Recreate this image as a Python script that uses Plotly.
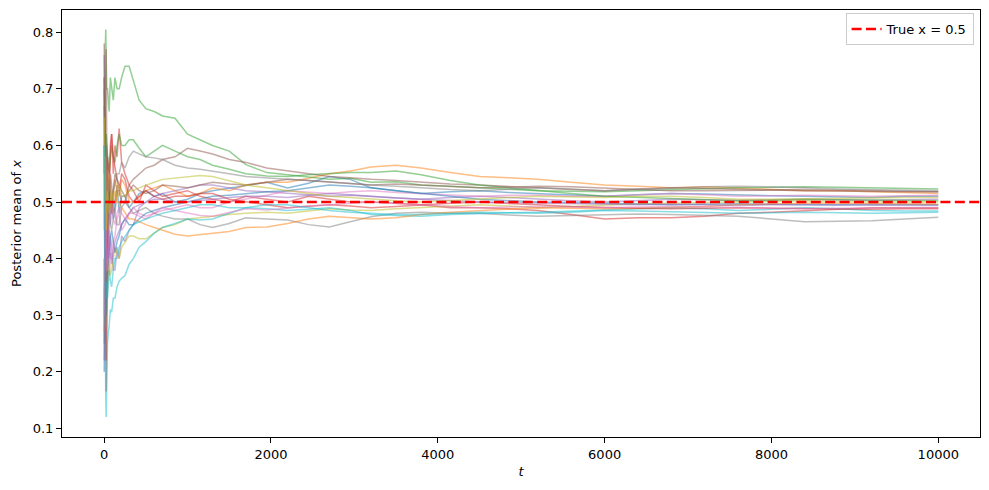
import plotly.graph_objects as go

t_steps = [1, 5, 10, 15, 20, 25, 30, 40, 50, 60,
           75, 90, 110, 130, 155, 180, 210, 250, 300, 350,
           420, 500, 600, 700, 850, 1000, 1150, 1300, 1500, 1700,
           1950, 2200, 2450, 2700, 2950, 3200, 3500, 3800, 4150,
           4500, 4850, 5200, 5600, 6000, 6400, 6800, 7200, 7600, 8000, 8400, 8800, 9200, 9600, 10000]

run_00 = [0.67, 0.55, 0.45, 0.58, 0.52, 0.40, 0.48, 0.47, 0.55, 0.52,
          0.46, 0.50, 0.47, 0.50, 0.53, 0.48, 0.51, 0.51, 0.49, 0.50,
          0.515, 0.52, 0.51, 0.515, 0.50, 0.505, 0.515, 0.52, 0.525, 0.53,
          0.535, 0.525, 0.533, 0.545, 0.54, 0.525, 0.52, 0.515, 0.518,
          0.52, 0.517, 0.515, 0.512, 0.51, 0.513, 0.515, 0.514, 0.512, 0.511, 0.51, 0.509, 0.508, 0.51, 0.51]
run_01 = [0.50, 0.58, 0.62, 0.50, 0.55, 0.58, 0.60, 0.52, 0.50, 0.55,
          0.53, 0.50, 0.52, 0.54, 0.52, 0.51, 0.54, 0.53, 0.50, 0.50,
          0.51, 0.52, 0.525, 0.53, 0.52, 0.51, 0.515, 0.525, 0.52, 0.53,
          0.535, 0.535, 0.542, 0.55, 0.555, 0.562, 0.565, 0.56, 0.552,
          0.545, 0.543, 0.54, 0.535, 0.53, 0.528, 0.525, 0.527, 0.525, 0.522, 0.52, 0.52, 0.518, 0.516, 0.515]
run_02 = [0.55, 0.66, 0.72, 0.78, 0.805, 0.74, 0.70, 0.70, 0.68, 0.66,
          0.72, 0.70, 0.68, 0.72, 0.70, 0.70, 0.72, 0.74, 0.74, 0.715,
          0.68, 0.665, 0.66, 0.652, 0.648, 0.62, 0.61, 0.60, 0.59, 0.566,
          0.552, 0.548, 0.545, 0.54, 0.542, 0.535, 0.536, 0.53, 0.528,
          0.525, 0.523, 0.52, 0.519, 0.518, 0.52, 0.522, 0.524, 0.525, 0.526, 0.527, 0.526, 0.525, 0.524, 0.523]
run_03 = [0.40, 0.30, 0.25, 0.45, 0.30, 0.165, 0.25, 0.35, 0.45, 0.50,
          0.58, 0.62, 0.55, 0.60, 0.58, 0.63, 0.57, 0.55, 0.53, 0.52,
          0.50, 0.53, 0.52, 0.51, 0.515, 0.52, 0.51, 0.505, 0.50, 0.51,
          0.505, 0.50, 0.51, 0.505, 0.50, 0.50, 0.497, 0.495, 0.49,
          0.49, 0.488, 0.485, 0.478, 0.47, 0.472, 0.472, 0.475, 0.48, 0.482, 0.485, 0.488, 0.49, 0.49, 0.49]
run_04 = [0.76, 0.65, 0.55, 0.40, 0.48, 0.60, 0.52, 0.45, 0.42, 0.40,
          0.44, 0.42, 0.38, 0.38, 0.42, 0.40, 0.44, 0.43, 0.45, 0.46,
          0.49, 0.50, 0.51, 0.515, 0.52, 0.525, 0.53, 0.53, 0.525, 0.52,
          0.518, 0.515, 0.513, 0.51, 0.512, 0.51, 0.507, 0.505, 0.508,
          0.51, 0.508, 0.505, 0.502, 0.50, 0.503, 0.505, 0.504, 0.503, 0.504, 0.505, 0.504, 0.503, 0.504, 0.505]
run_05 = [0.60, 0.52, 0.45, 0.68, 0.75, 0.77, 0.62, 0.55, 0.52, 0.50,
          0.55, 0.53, 0.49, 0.48, 0.52, 0.52, 0.50, 0.50, 0.53, 0.54,
          0.55, 0.56, 0.565, 0.575, 0.58, 0.595, 0.59, 0.585, 0.575, 0.57,
          0.56, 0.555, 0.55, 0.545, 0.543, 0.54, 0.538, 0.535, 0.532,
          0.53, 0.528, 0.525, 0.522, 0.52, 0.523, 0.525, 0.524, 0.522, 0.521, 0.52, 0.519, 0.518, 0.518, 0.518]
run_06 = [0.45, 0.55, 0.60, 0.35, 0.42, 0.50, 0.45, 0.42, 0.38, 0.37,
          0.41, 0.40, 0.43, 0.44, 0.47, 0.48, 0.45, 0.46, 0.48, 0.49,
          0.48, 0.475, 0.48, 0.485, 0.49, 0.495, 0.49, 0.49, 0.50, 0.505,
          0.512, 0.52, 0.518, 0.515, 0.518, 0.52, 0.517, 0.515, 0.512,
          0.51, 0.512, 0.512, 0.51, 0.51, 0.513, 0.515, 0.513, 0.51, 0.511, 0.512, 0.511, 0.51, 0.511, 0.512]
run_07 = [0.25, 0.35, 0.42, 0.55, 0.48, 0.38, 0.40, 0.42, 0.47, 0.50,
          0.46, 0.45, 0.47, 0.48, 0.46, 0.46, 0.49, 0.50, 0.49, 0.48,
          0.485, 0.49, 0.48, 0.475, 0.47, 0.47, 0.46, 0.455, 0.462, 0.472,
          0.47, 0.468, 0.46, 0.456, 0.465, 0.474, 0.48, 0.482, 0.48,
          0.48, 0.477, 0.475, 0.476, 0.478, 0.479, 0.478, 0.477, 0.475, 0.47, 0.465, 0.466, 0.467, 0.47, 0.473]
run_08 = [0.35, 0.28, 0.22, 0.40, 0.35, 0.30, 0.33, 0.35, 0.38, 0.40,
          0.37, 0.38, 0.40, 0.42, 0.41, 0.40, 0.42, 0.43, 0.44, 0.44,
          0.435, 0.435, 0.445, 0.455, 0.46, 0.47, 0.472, 0.475, 0.478, 0.48,
          0.482, 0.48, 0.484, 0.488, 0.486, 0.485, 0.488, 0.49, 0.493,
          0.495, 0.493, 0.49, 0.492, 0.495, 0.497, 0.498, 0.499, 0.50, 0.501, 0.502, 0.501, 0.50, 0.50, 0.50]
run_09 = [0.50, 0.38, 0.30, 0.20, 0.15, 0.12, 0.18, 0.25, 0.27, 0.28,
          0.31, 0.305, 0.33, 0.33, 0.35, 0.36, 0.365, 0.37, 0.39, 0.40,
          0.42, 0.43, 0.445, 0.455, 0.462, 0.47, 0.468, 0.47, 0.48, 0.49,
          0.488, 0.485, 0.487, 0.49, 0.485, 0.478, 0.476, 0.475, 0.478,
          0.48, 0.481, 0.482, 0.484, 0.485, 0.488, 0.49, 0.488, 0.485, 0.487, 0.49, 0.488, 0.485, 0.484, 0.484]
run_10 = [0.20, 0.28, 0.35, 0.42, 0.36, 0.30, 0.34, 0.38, 0.40, 0.42,
          0.44, 0.45, 0.43, 0.41, 0.43, 0.44, 0.46, 0.47, 0.46, 0.46,
          0.47, 0.48, 0.485, 0.49, 0.495, 0.50, 0.505, 0.51, 0.512, 0.515,
          0.518, 0.52, 0.525, 0.53, 0.528, 0.525, 0.52, 0.515, 0.51,
          0.505, 0.502, 0.50, 0.499, 0.498, 0.496, 0.495, 0.496, 0.497, 0.496, 0.495, 0.495, 0.496, 0.495, 0.495]
run_11 = [0.27, 0.35, 0.40, 0.55, 0.50, 0.42, 0.46, 0.50, 0.52, 0.55,
          0.50, 0.48, 0.50, 0.52, 0.50, 0.50, 0.49, 0.48, 0.47, 0.47,
          0.465, 0.46, 0.455, 0.45, 0.443, 0.44, 0.442, 0.445, 0.448, 0.455,
          0.456, 0.462, 0.47, 0.475, 0.472, 0.47, 0.472, 0.478, 0.482,
          0.485, 0.488, 0.49, 0.489, 0.488, 0.489, 0.49, 0.492, 0.495, 0.497, 0.498, 0.498, 0.497, 0.496, 0.496]
run_12 = [0.70, 0.64, 0.60, 0.56, 0.60, 0.62, 0.60, 0.58, 0.56, 0.55,
          0.58, 0.60, 0.58, 0.57, 0.60, 0.62, 0.60, 0.60, 0.61, 0.61,
          0.595, 0.58, 0.59, 0.60, 0.59, 0.58, 0.575, 0.565, 0.558, 0.55,
          0.546, 0.545, 0.548, 0.55, 0.552, 0.552, 0.555, 0.548, 0.538,
          0.53, 0.525, 0.52, 0.515, 0.51, 0.508, 0.505, 0.503, 0.502, 0.503, 0.505, 0.504, 0.503, 0.502, 0.502]
run_13 = [0.72, 0.65, 0.58, 0.62, 0.55, 0.50, 0.55, 0.58, 0.56, 0.55,
          0.60, 0.62, 0.58, 0.56, 0.54, 0.52, 0.55, 0.54, 0.51, 0.50,
          0.51, 0.52, 0.51, 0.505, 0.51, 0.51, 0.515, 0.515, 0.505, 0.50,
          0.495, 0.49, 0.492, 0.495, 0.493, 0.49, 0.492, 0.495, 0.498,
          0.50, 0.498, 0.495, 0.492, 0.49, 0.489, 0.488, 0.489, 0.49, 0.489, 0.488, 0.487, 0.487, 0.488, 0.488]
run_14 = [0.22, 0.35, 0.48, 0.35, 0.40, 0.45, 0.42, 0.40, 0.43, 0.45,
          0.41, 0.39, 0.41, 0.43, 0.44, 0.45, 0.46, 0.47, 0.48, 0.49,
          0.495, 0.50, 0.505, 0.505, 0.50, 0.50, 0.503, 0.505, 0.508, 0.51,
          0.51, 0.508, 0.512, 0.515, 0.513, 0.51, 0.507, 0.505, 0.502,
          0.50, 0.499, 0.498, 0.496, 0.495, 0.495, 0.496, 0.495, 0.494, 0.495, 0.495, 0.494, 0.495, 0.494, 0.494]
run_15 = [0.78, 0.72, 0.65, 0.50, 0.30, 0.22, 0.35, 0.45, 0.50, 0.52,
          0.50, 0.48, 0.52, 0.55, 0.54, 0.53, 0.52, 0.51, 0.52, 0.53,
          0.52, 0.515, 0.52, 0.53, 0.528, 0.525, 0.53, 0.535, 0.532, 0.53,
          0.535, 0.54, 0.538, 0.535, 0.532, 0.53, 0.532, 0.53, 0.527,
          0.525, 0.526, 0.528, 0.527, 0.525, 0.522, 0.52, 0.52, 0.52, 0.521, 0.522, 0.521, 0.52, 0.519, 0.518]
run_16 = [0.30, 0.36, 0.42, 0.55, 0.48, 0.40, 0.38, 0.38, 0.42, 0.45,
          0.48, 0.50, 0.47, 0.46, 0.48, 0.49, 0.48, 0.47, 0.48, 0.48,
          0.475, 0.47, 0.48, 0.49, 0.485, 0.48, 0.476, 0.475, 0.482, 0.488,
          0.486, 0.49, 0.493, 0.495, 0.498, 0.50, 0.498, 0.495, 0.492,
          0.49, 0.491, 0.492, 0.491, 0.49, 0.491, 0.492, 0.491, 0.49, 0.489, 0.488, 0.489, 0.49, 0.49, 0.49]
run_17 = [0.72, 0.60, 0.50, 0.62, 0.58, 0.55, 0.52, 0.48, 0.52, 0.54,
          0.52, 0.50, 0.52, 0.53, 0.55, 0.55, 0.57, 0.56, 0.58, 0.59,
          0.585, 0.58, 0.578, 0.575, 0.565, 0.56, 0.558, 0.555, 0.55, 0.545,
          0.542, 0.54, 0.538, 0.535, 0.533, 0.53, 0.528, 0.525, 0.522,
          0.52, 0.522, 0.525, 0.523, 0.52, 0.522, 0.525, 0.527, 0.528, 0.527, 0.525, 0.523, 0.522, 0.521, 0.52]
run_18 = [0.65, 0.55, 0.50, 0.58, 0.52, 0.45, 0.48, 0.52, 0.50, 0.48,
          0.50, 0.52, 0.50, 0.50, 0.52, 0.53, 0.51, 0.51, 0.52, 0.52,
          0.525, 0.53, 0.535, 0.54, 0.542, 0.545, 0.547, 0.545, 0.538, 0.53,
          0.525, 0.52, 0.515, 0.51, 0.508, 0.505, 0.502, 0.50, 0.503,
          0.505, 0.508, 0.51, 0.509, 0.508, 0.51, 0.51, 0.508, 0.505, 0.505, 0.506, 0.507, 0.507, 0.508, 0.508]
run_19 = [0.60, 0.50, 0.40, 0.28, 0.32, 0.36, 0.34, 0.33, 0.35, 0.38,
          0.36, 0.35, 0.38, 0.40, 0.40, 0.42, 0.43, 0.44, 0.45, 0.46,
          0.465, 0.47, 0.475, 0.48, 0.485, 0.49, 0.495, 0.495, 0.49, 0.49,
          0.495, 0.495, 0.49, 0.485, 0.482, 0.48, 0.478, 0.478, 0.48,
          0.482, 0.481, 0.48, 0.482, 0.485, 0.484, 0.483, 0.481, 0.48, 0.481, 0.482, 0.481, 0.48, 0.481, 0.482]

runs = [run_00, run_01, run_02, run_03, run_04, run_05, run_06, run_07, run_08, run_09,
        run_10, run_11, run_12, run_13, run_14, run_15, run_16, run_17, run_18, run_19]

true_x = 0.5
x_ticks = [0, 2000, 4000, 6000, 8000, 10000]
y_ticks = [0.1, 0.2, 0.3, 0.4, 0.5, 0.6, 0.7, 0.8]
x_range = [-505, 10500]
y_range = [0.0846, 0.8394]

palette = ["#1f77b4", "#ff7f0e", "#2ca02c", "#d62728", "#9467bd",
           "#8c564b", "#e377c2", "#7f7f7f", "#bcbd22", "#17becf"]

fig = go.Figure()
for i, run in enumerate(runs):
    fig.add_trace(go.Scatter(
        x=t_steps, y=run, mode="lines",
        line=dict(color=palette[i % 10], width=1.5),
        opacity=0.5, showlegend=False, hoverinfo="skip"))

fig.add_trace(go.Scatter(
    x=x_range, y=[true_x, true_x], mode="lines",
    line=dict(color="red", width=2.6, dash="10px,4.4px"),
    name="True x = 0.5", showlegend=True))

axis_common = dict(showline=True, linecolor="black", linewidth=1, mirror=True,
                   ticks="outside", ticklen=5, tickwidth=1, tickcolor="black",
                   showgrid=False, zeroline=False, automargin=False,
                   tickfont=dict(family="DejaVu Sans", size=13, color="black"))

fig.update_layout(
    width=989, height=490,
    margin=dict(l=62, r=9, t=10, b=53, autoexpand=False),
    paper_bgcolor="white", plot_bgcolor="white",
    font=dict(family="DejaVu Sans", size=13, color="black"),
    xaxis=dict(range=x_range, tickvals=x_ticks, ticktext=[str(v) for v in x_ticks],
               title=dict(text="<i>t</i>", standoff=6, font=dict(size=13)), **axis_common),
    yaxis=dict(range=y_range, tickvals=y_ticks, ticktext=["%.1f" % v for v in y_ticks],
               title=dict(text="Posterior mean of <i>x</i>", standoff=8, font=dict(size=13)),
               **axis_common),
    legend=dict(x=0.993, y=0.993, xanchor="right", yanchor="top",
                bgcolor="rgba(255,255,255,0.8)", bordercolor="#cccccc", borderwidth=1,
                font=dict(size=13), itemwidth=30),
)

fig.write_html("out.html", config={"displayModeBar": False},
               post_script="document.body.style.margin='0';document.body.style.overflow='hidden';")
